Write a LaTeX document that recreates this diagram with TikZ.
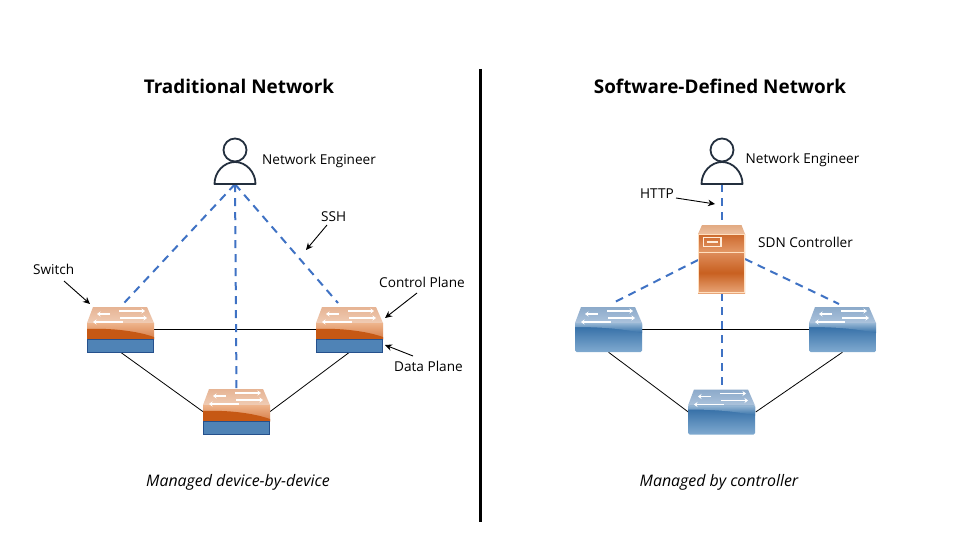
\documentclass[tikz,border=0pt]{standalone}
\usepackage{fontspec}
\setmainfont{Open Sans}
\usetikzlibrary{arrows.meta}
\definecolor{dashblue}{HTML}{3F72C4}
\definecolor{ink}{HTML}{232F3E}
\definecolor{planeblue}{HTML}{4F83B6}
\definecolor{planeedge}{HTML}{25508C}
\tikzset{
  lbl/.style={font=\fontsize{13.6}{15}\selectfont, inner sep=0pt, anchor=west},
  ttl/.style={font=\fontsize{18.9}{22}\bfseries\selectfont, inner sep=0pt},
  captext/.style={font=\fontsize{15.9}{18}\itshape\selectfont, inner sep=0pt},
  hit/.style={minimum width=67pt, minimum height=45pt, inner sep=0pt},
  engbox/.style={minimum width=42pt, minimum height=46pt, inner sep=0pt},
  ctlbox/.style={minimum width=47pt, minimum height=68pt, inner sep=0pt},
  ctl/.style={dashblue, line width=2pt, dash pattern=on 8pt off 6pt},
  wire/.style={black, line width=0.8pt},
  pointer/.style={black, line width=0.9pt, -{Stealth[length=7pt,width=6.5pt]}},
  flow/.style={white, line width=1.2pt, -{Stealth[length=3.5pt,width=5pt]}}
}
\newcommand{\flows}{%
  \draw[flow] (23,7) -- (10,7);
  \draw[flow] (32,4) -- (58,4);
  \draw[flow] (33,11) -- (60,11);
  \draw[flow] (36,15) -- (6,15);
}
\newcommand{\orangesw}[2]{%
 \begin{scope}[shift={(#1,#2)}]
  \shade[top color={rgb,255:red,230;green,180;blue,148}, bottom color={rgb,255:red,240;green,204;blue,180}]
    (6,0) -- (60,0) -- (67,16) -- (0,16) -- cycle;
  \shade[top color={rgb,255:red,238;green,180;blue,140}, bottom color={rgb,255:red,214;green,124;blue,70}] (0,16) rectangle (67,32);
  \fill[fill={rgb,255:red,198;green,88;blue,20}] (0,22) .. controls (25,21) and (50,24) .. (67,30) -- (67,32) -- (0,32) -- cycle;
  \flows
  \draw[planeedge, line width=0.9pt, fill=planeblue] (0.5,32) rectangle (66.5,45);
 \end{scope}}
\newcommand{\bluesw}[2]{%
 \begin{scope}[shift={(#1,#2)}]
  \shade[top color={rgb,255:red,140;green,170;blue,202}, bottom color={rgb,255:red,172;green,195;blue,220}]
    (6,0) -- (60,0) -- (67,16) -- (0,16) -- cycle;
  \shade[top color={rgb,255:red,44;green,104;blue,162}, bottom color={rgb,255:red,128;green,170;blue,208}, rounded corners=1.5pt] (0,16) rectangle (67,45);
  \shade[top color={rgb,255:red,150;green,182;blue,212}, bottom color={rgb,255:red,52;green,112;blue,168}] (0,16) -- (67,16) -- (67,26) .. controls (45,21) and (20,20) .. (0,20) -- cycle;
  \flows
 \end{scope}}
\newcommand{\engineer}[2]{%
 \begin{scope}[shift={(#1,#2)}]
  \draw[ink, line width=1.8pt] (0,-34) circle (11.5pt);
  \draw[ink, line width=1.8pt, line join=round] (-20.5,0) .. controls (-20.5,-12) and (-11,-22) .. (0,-22) .. controls (11,-22) and (20.5,-12) .. (20.5,0) -- cycle;
 \end{scope}}
\begin{document}
\begin{tikzpicture}[x=1pt,y=-1pt]
\useasboundingbox (0,0) rectangle (960,540);
\fill[white] (0,0) rectangle (960,540);

% named anchors
\node[hit] (sw1) at (120.5,329.5) {};
\node[hit] (sw2) at (349.5,329.5) {};
\node[hit] (sw3) at (236.5,411.5) {};
\node[hit] (sw4) at (608.5,329.5) {};
\node[hit] (sw5) at (842.5,329.5) {};
\node[hit] (sw6) at (722,412) {};
\node[engbox] (eng1) at (235,161) {};
\node[engbox] (eng2) at (722,161) {};
\node[ctlbox] (sdn) at (722,259) {};
\coordinate (sw2ctl) at (338,303);
\coordinate (sw4ctl) at (611,304);
\coordinate (sw5ctl) at (839,304);
\coordinate (sdnL) at (698,260);
\coordinate (sdnR) at (745,259);

% wires
\draw[wire] (sw1.east) -- (sw2.west);
\draw[wire] (sw1.south) -- (sw3.west);
\draw[wire] (sw2.south) -- (sw3.east);
\draw[wire] (sw4.east) -- (sw5.west);
\draw[wire] (sw4.south) -- (sw6.west);
\draw[wire] (sw5.south) -- (sw6.east);

% control lines
\draw[ctl] (eng1.south) -- (sw1.north);
\draw[ctl] (eng1.south) -- (sw3.north);
\draw[ctl] (eng1.south) -- (sw2ctl);
\draw[ctl] (eng2.south) -- (sdn.north);
\draw[ctl] (sdnL) -- (sw4ctl);
\draw[ctl] (sdnR) -- (sw5ctl);
\draw[ctl] (sdn.south) -- (sw6.north);

% devices
\orangesw{87}{307}
\orangesw{316}{307}
\orangesw{203}{389}
\bluesw{575}{307}
\bluesw{809}{307}
\bluesw{688}{389.5}
\engineer{235}{184}
\engineer{722}{184}

% controller
\shade[top color={rgb,255:red,226;green,170;blue,130}, bottom color={rgb,255:red,236;green,190;blue,158}] (702,225) -- (741.5,225) -- (745,234) -- (698,234) -- cycle;
\shade[top color={rgb,255:red,205;green,105;blue,45}, bottom color={rgb,255:red,226;green,150;blue,100}] (698,234) rectangle (745,251.5);
\shade[top color={rgb,255:red,222;green,140;blue,90}, bottom color={rgb,255:red,232;green,165;blue,120}, middle color={rgb,255:red,200;green,96;blue,32}] (698,252.5) rectangle (745,293);
\draw[white!75!orange, line width=0.9pt] (698.4,234) rectangle (744.6,292.6);
\draw[white!75!orange, line width=0.9pt] (698,252) -- (745,252);
\draw[white!85!orange, line width=1.2pt] (703.5,237.5) rectangle (721,246.5);
\draw[white!85!orange, line width=1.2pt] (706.5,242) -- (718,242);

% divider and titles
\node[ttl] (t1) at (239,86) {Traditional Network};
\node[ttl] (t2) at (720,86) {Software-Defined Network};
\coordinate (divT) at (480.5,69);
\coordinate (divB) at (480.5,522);
\draw[black, line width=2.4pt] (divT) -- (divB);

% labels
\node[lbl] (n1) at (262,161) {Network Engineer};
\node[lbl] (n2) at (745.5,160) {Network Engineer};
\node[lbl] (ssh) at (321,217) {SSH};
\node[lbl] (swl) at (33,269) {Switch};
\node[lbl] (cpl) at (379,282) {Control Plane};
\node[lbl] (dpl) at (394,366) {Data Plane};
\node[lbl] (http) at (640,194) {HTTP};
\node[lbl] (sdnl) at (758,242) {SDN Controller};
\node[captext] (c1) at (238,482) {Managed device-by-device};
\node[captext] (c2) at (719,482) {Managed by controller};

% pointers
\coordinate (aSw) at (64,281);
\coordinate (bSw) at (90,304);
\coordinate (aSsh) at (327,225);
\coordinate (bSsh) at (306,250);
\coordinate (aCp) at (417,293);
\coordinate (bCp) at (385,318);
\coordinate (aDp) at (413,356);
\coordinate (bDp) at (385,345);
\coordinate (aH) at (676,198);
\coordinate (bH) at (715,204);
\draw[pointer] (aSw) -- (bSw);
\draw[pointer] (aSsh) -- (bSsh);
\draw[pointer] (aCp) -- (bCp);
\draw[pointer] (aDp) -- (bDp);
\draw[pointer] (aH) -- (bH);
\end{tikzpicture}
\end{document}
